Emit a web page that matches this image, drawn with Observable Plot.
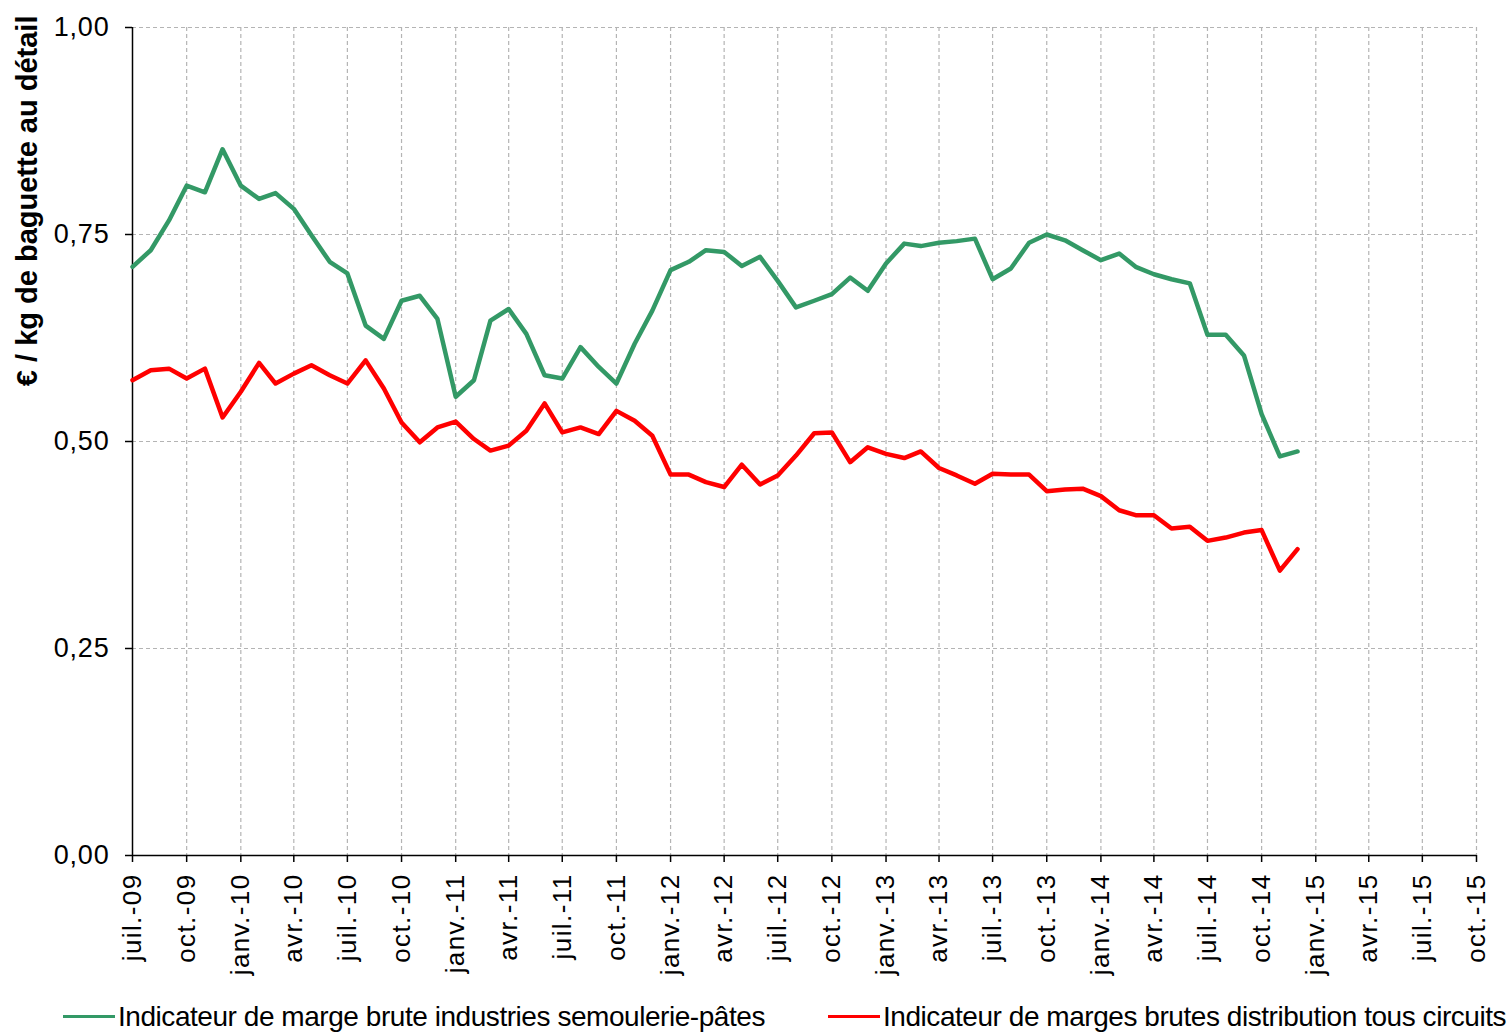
<!DOCTYPE html>
<html>
<head>
<meta charset="utf-8">
<script src="https://cdn.jsdelivr.net/npm/d3@7"></script>
<script src="https://cdn.jsdelivr.net/npm/@observablehq/plot@0.6"></script>
<style>
  html, body { margin: 0; padding: 0; background: #fff; }
  #chart { position: relative; width: 1510px; height: 1034px; overflow: hidden; }
  .legend { position: absolute; top: 999px; left: 0; width: 1510px; height: 35px; font-family: "Liberation Sans", Arial, sans-serif; font-size: 28px; letter-spacing: -0.45px; color: #000; }
  .item { position: absolute; top: 0; height: 35px; display: flex; align-items: center; white-space: nowrap; }
  .swatch { display: inline-block; width: 52px; height: 3px; margin-right: 3px; }
  .xt text { letter-spacing: 1.4px; }
  .yt text { letter-spacing: 0.8px; }
</style>
</head>
<body>
<div id="chart"></div>
<script>
const months = [
  "2009-07","2009-08","2009-09","2009-10","2009-11","2009-12",
  "2010-01","2010-02","2010-03","2010-04","2010-05","2010-06","2010-07","2010-08","2010-09","2010-10","2010-11","2010-12",
  "2011-01","2011-02","2011-03","2011-04","2011-05","2011-06","2011-07","2011-08","2011-09","2011-10","2011-11","2011-12",
  "2012-01","2012-02","2012-03","2012-04","2012-05","2012-06","2012-07","2012-08","2012-09","2012-10","2012-11","2012-12",
  "2013-01","2013-02","2013-03","2013-04","2013-05","2013-06","2013-07","2013-08","2013-09","2013-10","2013-11","2013-12",
  "2014-01","2014-02","2014-03","2014-04","2014-05","2014-06","2014-07","2014-08","2014-09","2014-10","2014-11","2014-12"
];
const industrie = [
  0.711, 0.731, 0.767, 0.809, 0.801, 0.853, 0.809, 0.793, 0.800, 0.781,
  0.749, 0.717, 0.703, 0.640, 0.624, 0.670, 0.676, 0.648, 0.554, 0.574,
  0.646, 0.660, 0.630, 0.580, 0.576, 0.614, 0.590, 0.570, 0.618, 0.658,
  0.707, 0.717, 0.731, 0.729, 0.712, 0.723, 0.694, 0.662, 0.670, 0.678,
  0.698, 0.682, 0.715, 0.739, 0.736, 0.740, 0.742, 0.745, 0.696, 0.709,
  0.740, 0.750, 0.743, 0.731, 0.719, 0.727, 0.711, 0.702, 0.696, 0.691,
  0.629, 0.629, 0.604, 0.533, 0.482, 0.488
];
const distribution = [
  0.574, 0.586, 0.588, 0.576, 0.588, 0.529, 0.560, 0.595, 0.570, 0.582,
  0.592, 0.580, 0.570, 0.598, 0.564, 0.523, 0.499, 0.517, 0.524, 0.503,
  0.489, 0.495, 0.513, 0.546, 0.511, 0.517, 0.509, 0.537, 0.525, 0.507,
  0.460, 0.460, 0.451, 0.445, 0.472, 0.448, 0.459, 0.483, 0.510, 0.511,
  0.475, 0.493, 0.485, 0.480, 0.488, 0.468, 0.459, 0.449, 0.461, 0.460,
  0.460, 0.440, 0.442, 0.443, 0.434, 0.417, 0.411, 0.411, 0.395, 0.397,
  0.380, 0.384, 0.390, 0.393, 0.344, 0.370
];
const tickMonths = [
  "2009-07","2009-10","2010-01","2010-04","2010-07","2010-10","2011-01","2011-04","2011-07","2011-10",
  "2012-01","2012-04","2012-07","2012-10","2013-01","2013-04","2013-07","2013-10","2014-01","2014-04",
  "2014-07","2014-10","2015-01","2015-04","2015-07","2015-10"
];
const tickLabels = [
  "juil.-09","oct.-09","janv.-10","avr.-10","juil.-10","oct.-10","janv.-11","avr.-11","juil.-11","oct.-11",
  "janv.-12","avr.-12","juil.-12","oct.-12","janv.-13","avr.-13","juil.-13","oct.-13","janv.-14","avr.-14",
  "juil.-14","oct.-14","janv.-15","avr.-15","juil.-15","oct.-15"
];
const yTicks = [0, 0.25, 0.5, 0.75, 1];
const seriesNames = [
  "Indicateur de marge brute industries semoulerie-pâtes",
  "Indicateur de marges brutes distribution tous circuits"
];
const seriesColors = ["#339966", "#ff0000"];
const yTitle = "€ / kg de baguette au détail";

const parse = s => new Date(s + "-01T00:00:00Z");
const tickDates = tickMonths.map(parse);
const labelOf = new Map(tickDates.map((d, i) => [+d, tickLabels[i]]));
const rows = [];
months.forEach((m, i) => {
  rows.push({date: parse(m), value: industrie[i], s: 0});
  rows.push({date: parse(m), value: distribution[i], s: 1});
});

const font = "'Liberation Sans', Arial, sans-serif";
const chart = Plot.plot({
  width: 1510,
  height: 999,
  marginLeft: 132,
  marginRight: 34,
  marginTop: 27,
  marginBottom: 144,
  style: {fontFamily: font, background: "#fff", color: "#000"},
  x: {type: "utc", domain: [tickDates[0], tickDates[tickDates.length - 1]]},
  y: {domain: [0, 1]},
  marks: [
    Plot.gridX(tickDates.slice(1), {stroke: "#b4b4b4", strokeOpacity: 1, strokeWidth: 1.2, strokeDasharray: "4,3"}),
    Plot.gridY(yTicks.slice(1), {stroke: "#b4b4b4", strokeOpacity: 1, strokeWidth: 1.2, strokeDasharray: "4,3"}),
    Plot.axisX({ticks: tickDates, tickFormat: d => labelOf.get(+d), tickRotate: -90, tickSize: 7, tickPadding: 11, fontSize: 26, label: null, stroke: "#000", strokeWidth: 1.5, className: "xt"}),
    Plot.axisY({ticks: yTicks, tickFormat: d => d.toFixed(2).replace(".", ","), tickSize: 7, tickPadding: 16, fontSize: 27, label: null, stroke: "#000", strokeWidth: 1.5, className: "yt"}),
    Plot.ruleY([0], {stroke: "#000", strokeWidth: 1.5}),
    Plot.ruleX([tickDates[0]], {stroke: "#000", strokeWidth: 1.5}),
    Plot.line(rows, {x: "date", y: "value", z: "s", stroke: d => seriesColors[d.s], strokeWidth: 4.5, strokeLinejoin: "round"}),
    Plot.text([yTitle], {frameAnchor: "top-left", text: d => d, rotate: -90, textAnchor: "end", dx: -116, dy: -12, fontSize: 29, fontWeight: "bold", fill: "#000"})
  ]
});
const root = document.getElementById("chart");
root.appendChild(chart);
const legend = document.createElement("div");
legend.className = "legend";
const lefts = [63, 828];
seriesNames.forEach((name, i) => {
  const item = document.createElement("div");
  item.className = "item";
  item.style.left = lefts[i] + "px";
  const sw = document.createElement("span");
  sw.className = "swatch";
  sw.style.background = seriesColors[i];
  const t = document.createElement("span");
  t.textContent = name;
  item.appendChild(sw);
  item.appendChild(t);
  legend.appendChild(item);
});
root.appendChild(legend);
</script>
</body>
</html>
